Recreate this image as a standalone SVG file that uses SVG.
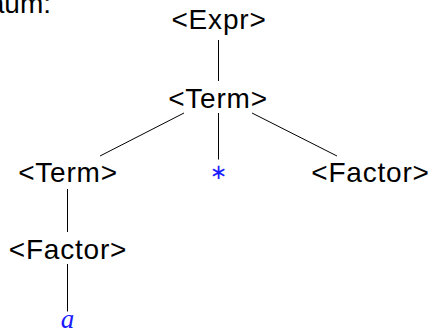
<svg xmlns="http://www.w3.org/2000/svg" width="431" height="333" viewBox="0 0 431 333">
<style>
.n{font-family:"Liberation Sans",Arial,sans-serif;font-size:28px;letter-spacing:0.8px;fill:#000;text-anchor:middle}
.t{fill:#1a1aff;text-anchor:middle}
.c line{stroke:#000;stroke-width:1}
</style>
<rect width="431" height="333" fill="#fff"/>
<text x="51" y="13" text-anchor="end" style="font-family:'Liberation Sans',Arial,sans-serif;font-size:28px">aum:</text>
<g class="c" id="connectors">
<line x1="218.5" y1="40" x2="218.5" y2="81"/>
<line x1="184" y1="113" x2="100" y2="156"/>
<line x1="218.5" y1="113" x2="218.5" y2="159.5"/>
<line x1="252" y1="113" x2="337" y2="156"/>
<line x1="67.5" y1="189" x2="67.5" y2="232"/>
<line x1="67.5" y1="264" x2="67.5" y2="311.5"/>
</g>
<g id="expr"><text class="n" x="219" y="29">&lt;Expr&gt;</text></g>
<g id="term1"><text class="n" x="218" y="107.5">&lt;Term&gt;</text></g>
<g id="term2"><text class="n" x="68" y="182">&lt;Term&gt;</text></g>
<g id="star"><text class="t" x="218.5" y="179" style="font-family:'DejaVu Sans',sans-serif;font-size:21px">∗</text></g>
<g id="factor1"><text class="n" x="370.5" y="182">&lt;Factor&gt;</text></g>
<g id="factor2"><text class="n" x="68" y="258.5">&lt;Factor&gt;</text></g>
<g id="a"><text class="t" x="67.5" y="328" style="font-family:'Liberation Serif',serif;font-style:italic;font-size:27px">a</text></g>
</svg>
